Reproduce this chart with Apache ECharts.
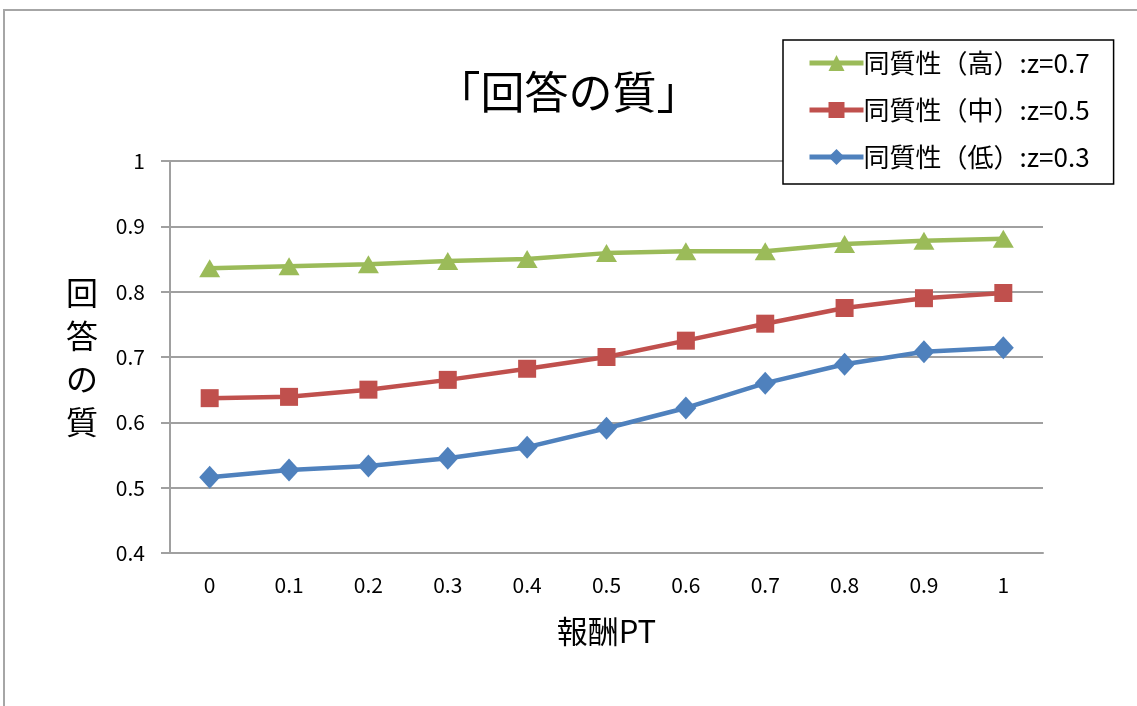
<!DOCTYPE html>
<html>
<head>
<meta charset="utf-8">
<script src="https://cdn.jsdelivr.net/npm/echarts@6/dist/echarts.min.js"></script>
<style>
  html, body { margin: 0; padding: 0; background: #fff; }
  #chart { width: 1137px; height: 706px; }
</style>
</head>
<body>
<div id="chart"></div>
<script>
// 報酬PT (x categories)
const rewardPT = ['0', '0.1', '0.2', '0.3', '0.4', '0.5', '0.6', '0.7', '0.8', '0.9', '1'];

// 回答の質 for each homogeneity level
const qualityHigh = [0.836, 0.839, 0.842, 0.847, 0.850, 0.859, 0.862, 0.862, 0.873, 0.878, 0.881];
const qualityMid  = [0.637, 0.639, 0.650, 0.665, 0.682, 0.700, 0.725, 0.751, 0.775, 0.790, 0.798];
const qualityLow  = [0.516, 0.527, 0.533, 0.545, 0.562, 0.591, 0.622, 0.660, 0.689, 0.708, 0.714];

const seriesNames = ['同質性（高）:z=0.7', '同質性（中）:z=0.5', '同質性（低）:z=0.3'];

const FONT = '"Noto Sans CJK JP", "Noto Sans", sans-serif';

const chart = echarts.init(document.getElementById('chart'), null, { renderer: 'canvas' });

function lineSeries(name, data, color, symbol, size) {
  return {
    name: name,
    type: 'line',
    data: data,
    symbol: symbol,
    symbolSize: size,
    showAllSymbol: true,
    lineStyle: { color: color, width: 4.5 },
    itemStyle: { color: color },
    emphasis: { disabled: true },
    animation: false
  };
}

chart.setOption({
  backgroundColor: '#ffffff',
  animation: false,
  textStyle: { fontFamily: FONT },
  graphic: [{
    type: 'rect',
    shape: { x: 4, y: 10, width: 1300, height: 900 },
    style: { fill: 'none', stroke: '#a6a6a6', lineWidth: 2 },
    silent: true
  }],
  title: {
    text: '「回答の質」',
    left: 'center',
    top: 65,
    textStyle: { fontFamily: FONT, fontSize: 44, fontWeight: 'normal', color: '#000' }
  },
  legend: {
    orient: 'vertical',
    left: 783,
    top: 40,
    padding: [10, 24, 14, 24],
    itemGap: 21,
    itemWidth: 54,
    itemHeight: 20,
    borderColor: '#000',
    borderWidth: 1.5,
    backgroundColor: '#fff',
    lineStyle: { width: 5 },
    textStyle: { fontFamily: FONT, fontSize: 26, color: '#000', padding: [0, 0, 0, -5] },
    data: seriesNames
  },
  grid: { left: 170, right: 94, top: 161, bottom: 153, containLabel: false },
  xAxis: {
    type: 'category',
    data: rewardPT,
    boundaryGap: true,
    name: '報酬PT',
    nameLocation: 'middle',
    nameGap: 63,
    nameTextStyle: { fontFamily: FONT, fontSize: 31, color: '#000' },
    axisLine: { show: true, lineStyle: { color: '#a0a0a0', width: 2 } },
    axisTick: { show: false },
    axisLabel: { fontFamily: FONT, fontSize: 21, color: '#000', margin: 22 }
  },
  yAxis: {
    type: 'value',
    min: 0.4,
    max: 1,
    interval: 0.1,
    name: '回\n答\nの\n質',
    nameLocation: 'middle',
    nameGap: 88,
    nameRotate: 0,
    nameTextStyle: {
      fontFamily: FONT, fontSize: 32, color: '#000', lineHeight: 43,
      align: 'center', verticalAlign: 'middle'
    },
    axisLine: { show: true, lineStyle: { color: '#a0a0a0', width: 2 } },
    axisTick: { show: true, length: 9, lineStyle: { color: '#a0a0a0', width: 2 } },
    splitLine: { show: true, lineStyle: { color: '#a0a0a0', width: 2 } },
    axisLabel: {
      fontFamily: FONT, fontSize: 21, color: '#000', margin: 25,
      formatter: function (v) { return String(Math.round(v * 10) / 10); }
    }
  },
  series: [
    lineSeries(seriesNames[0], qualityHigh, '#9bbb59', 'triangle', [21, 18]),
    lineSeries(seriesNames[1], qualityMid, '#c0504d', 'rect', [18, 18]),
    lineSeries(seriesNames[2], qualityLow, '#4f81bd', 'diamond', [21, 23])
  ]
});
</script>
</body>
</html>
